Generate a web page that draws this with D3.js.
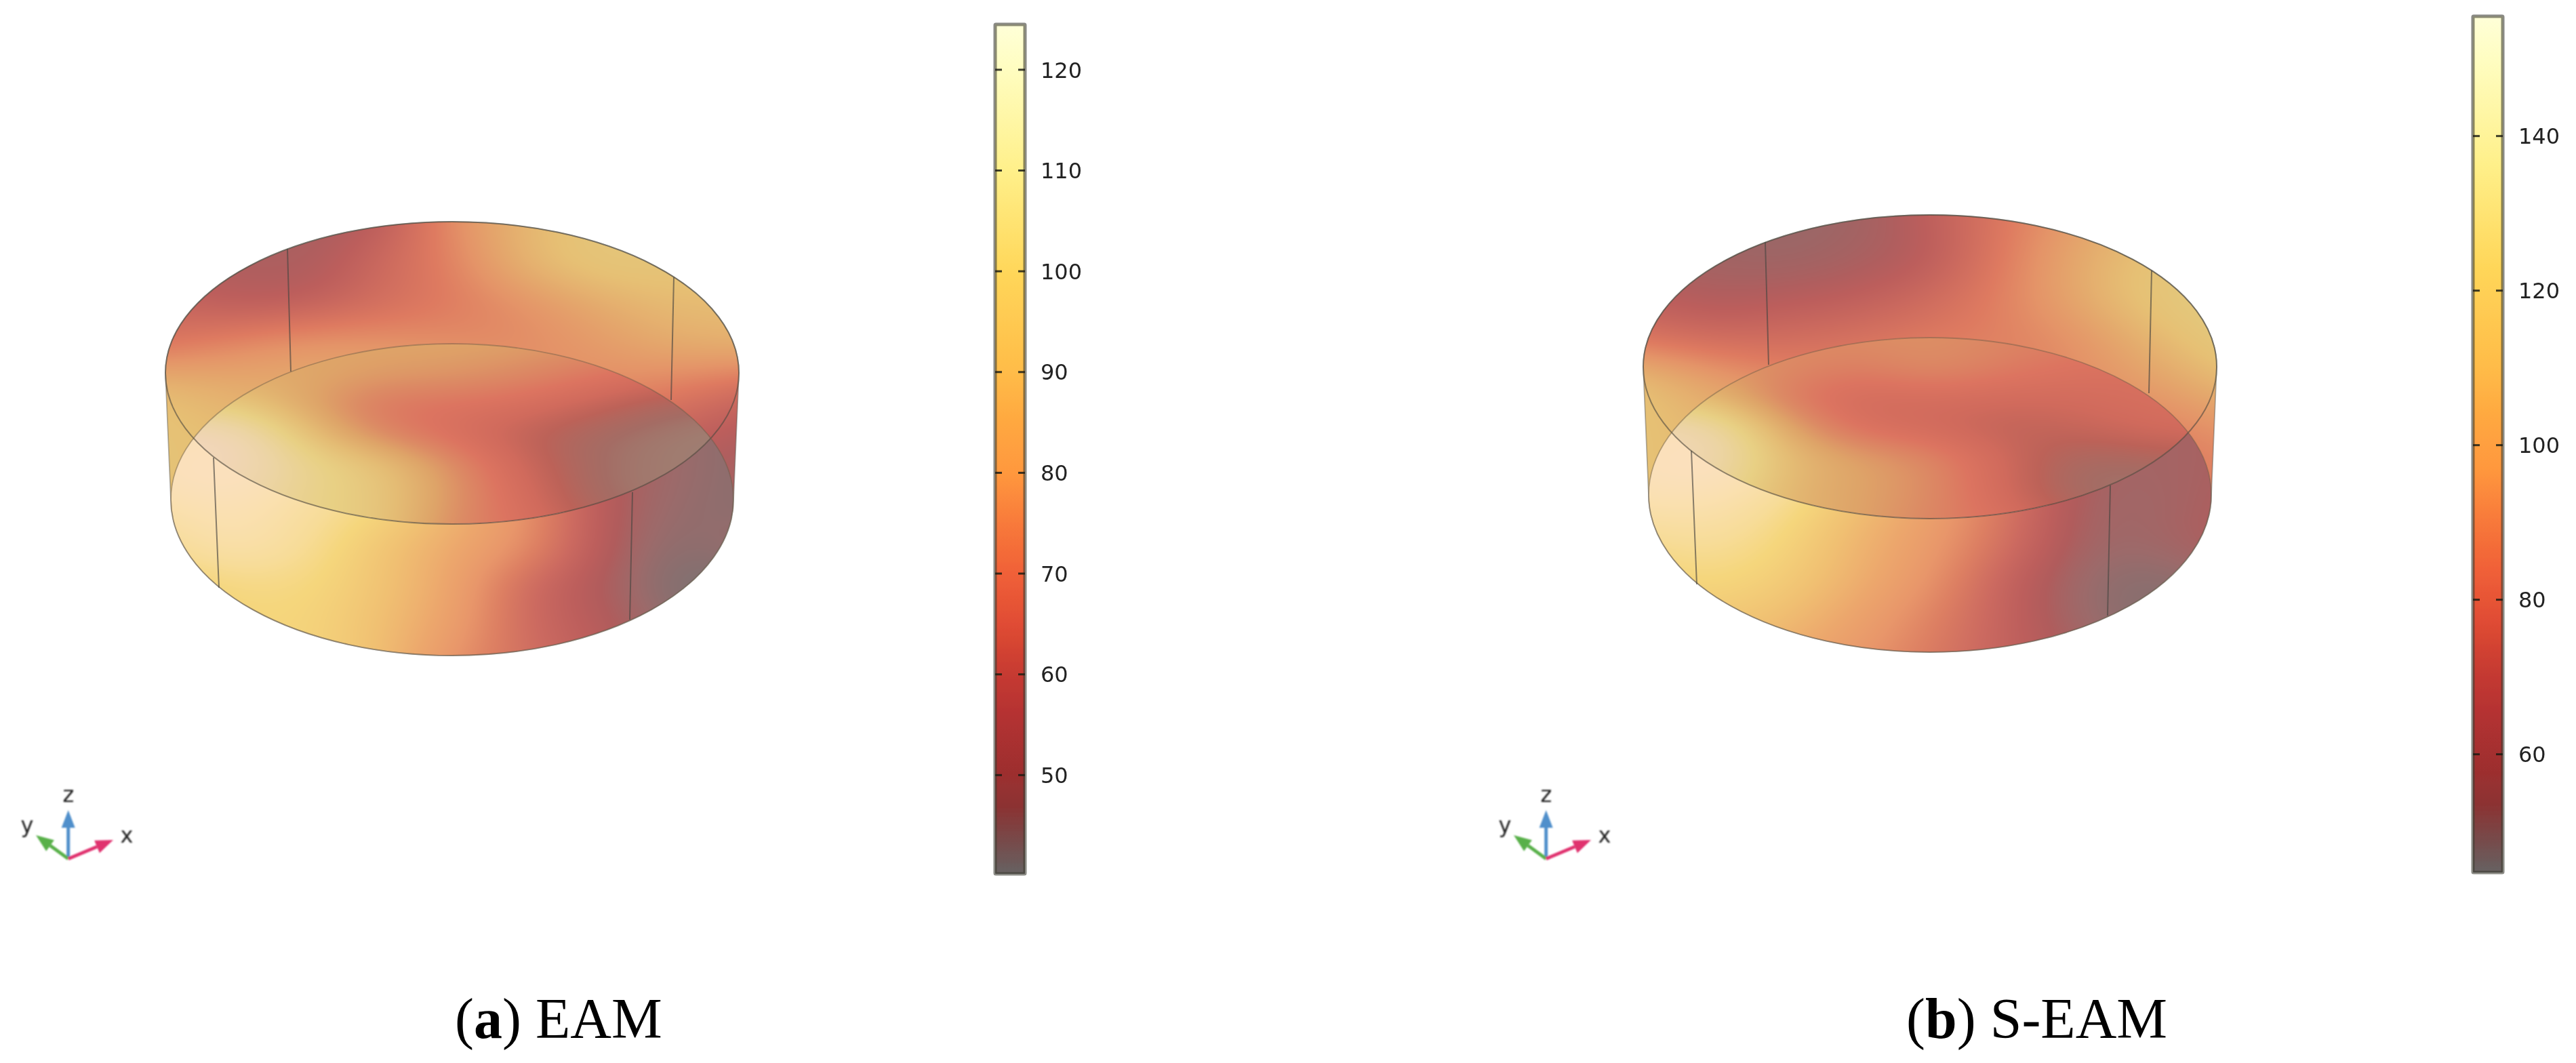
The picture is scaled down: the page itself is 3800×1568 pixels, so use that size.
<!DOCTYPE html>
<html><head><meta charset="utf-8">
<script src="https://cdnjs.cloudflare.com/ajax/libs/d3/7.8.5/d3.min.js"></script>
<style>html,body{margin:0;padding:0;background:#fff}svg{display:block}</style>
</head><body>
<div id="chart"></div>
<script>
// ---------- data ----------
const captionsBold = ["a", "b"];
const captionsName = ["EAM", "S-EAM"];
const ticksEAM = [50, 60, 70, 80, 90, 100, 110, 120];
const ticksSEAM = [60, 80, 100, 120, 140];
const rangeEAM = [40.2, 124.5];
const rangeSEAM = [44.7, 155.5];
const axisLetters = ["x", "y", "z"];

// colour bar (fraction of range -> colour)
const barStops  = [0, .045, .08, .116, .175, .235, .294, .353, .413, .472, .532, .591, .71, .828, .947, 1];
const barColors = ["#666262","#7a4646","#8c3232","#9c2f2f","#b03030","#c63a30","#e04c34","#f06038","#f87a3a","#ff983e","#ffa840","#ffbc48","#ffd75a","#fff08a","#fffdc0","#ffffd8"];

// how the translucent surfaces show that colour
const frontStops  = [.01,.03,.07,.12,.16,.235,.33,.425,.52,.64,.76,.83,.92,1];
const frontColors = ["#706e6e","#847070","#9c6a6a","#b05c5c","#bc5e5c","#cc6a60","#dc7e62","#e8966a","#eca66c","#f0c072","#f5d67c","#f7dc98","#fae0b0","#fbe0c4"];
const backStops   = [.01,.07,.12,.16,.235,.33,.425,.52,.64,.76,.92];
const backColors  = ["#8a7070","#a06464","#b05e5e","#bc5e5c","#cc6a5e","#de7a60","#e49468","#e4a86c","#e6c074","#e2cc80","#d8c8a0"];
const lensStops   = [.01,.045,.08,.16,.235,.33,.425,.52,.64,.76,.88,1];
const lensColors  = ["#96827a","#a07c70","#a46c64","#bc6258","#d06a5c","#dc7460","#dc8a64","#dea468","#e4bc74","#e8d084","#ecd4a4","#f2d6bc"];

// temperature read across the surfaces (rows top to bottom, columns left to right)
const eamBack = [
 [48,48,48,52,74,90,98,98,98],
 [50,50,48,60,70,90,100,98,96],
 [58,52,54,62,68,74,84,92,92],
 [66,74,80,78,74,73,78,85,88],
 [92,86,84,84,84,76,74,70,62],
 [96,92,86,82,78,72,66,58,52],
 [96,94,88,80,72,62,54,50,48],
 [94,92,88,80,72,62,54,50,48]];
const eamLens = [
 [84,84,84,84,84,82,78,74,70],
 [88,86,86,82,80,76,70,64,60],
 [104,100,84,68,67,64,56,48,46],
 [124,124,96,74,64,54,47,44,43],
 [124,124,108,98,78,58,46,44,43],
 [120,118,106,100,80,62,46,44,43],
 [116,116,106,100,76,66,50,46,44]];
const eamFront = [
 [120,122,118,108,96,76,52,46,44],
 [122,124,118,108,96,76,52,46,44],
 [116,120,112,104,90,76,52,45,44],
 [110,118,110,96,85,75,52,43,46],
 [100,106,106,96,84,60,50,42,41],
 [100,104,104,94,82,60,52,44,41],
 [100,104,104,94,76,62,54,46,41]];
const seamBack = [
 [52,52,50,52,63,79,96,110,118],
 [54,52,50,54,60,81,102,118,122],
 [62,57,60,63,71,84,102,121,128],
 [76,71,73,76,81,84,89,108,123],
 [115,99,87,87,94,84,89,97,110],
 [117,110,95,86,88,84,84,84,92],
 [117,112,98,86,84,80,78,78,84],
 [117,112,98,86,84,80,78,78,84]];
const seamLens = [
 [92,92,92,92,94,90,86,84,84],
 [100,98,92,86,94,86,80,78,78],
 [124,112,84,71,74,72,72,76,78],
 [150,148,104,76,71,63,66,72,74],
 [152,150,116,102,92,71,54,56,60],
 [148,140,112,102,94,71,52,50,50],
 [146,136,112,102,90,78,60,52,50]];
const seamFront = [
 [150,152,144,124,108,82,56,54,56],
 [152,155,146,124,108,82,56,54,56],
 [146,147,134,114,100,78,55,53,57],
 [134,139,128,109,96,76,54,53,58],
 [126,131,123,107,92,66,52,48,52],
 [118,122,115,100,84,66,52,48,48],
 [112,116,106,94,80,66,56,50,48]];

// ---------- layout ----------
const W = 3800, H = 1568;
const panels = [
 {id:"a", cx:667, top:{cy:550,rx:423,ry:223}, bot:{cy:737,rx:415,ry:230}, lensBox:[508,773], frontBox:[648,967], backBox:[327,755],
  bar:{x:1468,w:44,y0:36,y1:1289}, range:rangeEAM, ticks:ticksEAM, labelX:1535, back:eamBack, lens:eamLens, front:eamFront,
  triadDx:0, capX:671, bold:captionsBold[0], name:captionsName[0],
  edges:[[[424,367],[429,548]],[[994,409],[990,590]],[[315,675],[323,867]],[[933,726],[929,914]]]},
 {id:"b", cx:2847, top:{cy:541,rx:423,ry:224}, bot:{cy:730,rx:415,ry:232}, lensBox:[498,765], frontBox:[638,962], backBox:[317,745],
  bar:{x:3648,w:44,y0:24,y1:1287}, range:rangeSEAM, ticks:ticksSEAM, labelX:3715, back:seamBack, lens:seamLens, front:seamFront,
  triadDx:2180, capX:2812, bold:captionsBold[1], name:captionsName[1],
  edges:[[[2604,357],[2609,538]],[[3174,399],[3170,580]],[[2495,665],[2503,862]],[[3113,716],[3109,908]]]}
];

const svg = d3.select("#chart").append("svg").attr("width",W).attr("height",H).attr("viewBox",[0,0,W,H]);
svg.append("rect").attr("width",W).attr("height",H).attr("fill","#fff");
const defs = svg.append("defs");
const soft = defs.append("filter").attr("id","soft").attr("x","-5%").attr("y","-5%").attr("width","110%").attr("height","110%");
soft.append("feGaussianBlur").attr("stdDeviation",0.7);
const soft2 = defs.append("filter").attr("id","soft2").attr("x","-20%").attr("y","-20%").attr("width","140%").attr("height","140%");
soft2.append("feGaussianBlur").attr("stdDeviation",1.3);

function lut(stops, colors) {
  const s = d3.scaleLinear().domain(stops).range(colors).interpolate(d3.interpolateRgb).clamp(true);
  return d3.range(1025).map(i => d3.rgb(s(i / 1024)));
}
const frontLut = lut(frontStops, frontColors), backLut = lut(backStops, backColors), lensLut = lut(lensStops, lensColors);

// paints a temperature grid to an image through the range and colour scales
function fieldImage(grid, table, range, xRange, yRange) {
  const [x0, x1] = xRange, [y0, y1] = yRange, w = x1 - x0, h = y1 - y0;
  const cv = document.createElement("canvas"); cv.width = w; cv.height = h;
  const ctx = cv.getContext("2d"), img = ctx.createImageData(w, h);
  const norm = d3.scaleLinear().domain(range).range([0, 1024]).clamp(true);
  const xs = d3.scaleLinear().domain([0, w - 1]).range([0, 1]);
  const ys = d3.scaleLinear().domain([0, h - 1]).range([0, 1]);
  const rows = grid.map(r => d3.interpolateBasis(r));
  for (let i = 0; i < w; i++) {
    const col = d3.interpolateBasis(rows.map(f => f(xs(i))));
    for (let j = 0; j < h; j++) {
      const c = table[Math.round(norm(col(ys(j))))], k = (j * w + i) * 4;
      img.data[k] = c.r; img.data[k+1] = c.g; img.data[k+2] = c.b; img.data[k+3] = 255;
    }
  }
  ctx.putImageData(img, 0, 0);
  return cv.toDataURL();
}

panels.forEach(p => {
  const g = svg.append("g").attr("class", "panel-" + p.id);
  const L = p.cx - p.top.rx, R = p.cx + p.top.rx, L2 = p.cx - p.bot.rx, R2 = p.cx + p.bot.rx;
  const ell = e => `M${p.cx - e.rx},${e.cy}A${e.rx},${e.ry} 0 1 1 ${p.cx + e.rx},${e.cy}A${e.rx},${e.ry} 0 1 1 ${p.cx - e.rx},${e.cy}Z`;
  const hull = `M${L},${p.top.cy}A${p.top.rx},${p.top.ry} 0 0 1 ${R},${p.top.cy}L${R2},${p.bot.cy}A${p.bot.rx},${p.bot.ry} 0 0 1 ${L2},${p.bot.cy}Z`;
  const clip = (name, d, rule) => defs.append("clipPath").attr("id", p.id + name).append("path").attr("d", d).attr("clip-rule", rule || "nonzero");
  clip("hull", hull); clip("top", ell(p.top)); clip("bot", ell(p.bot));
  clip("out", `M0,0H${W}V${H}H0Z` + ell(p.top), "evenodd");

  const xr = [Math.floor(L), Math.ceil(R)];
  const image = (sel, grid, table, yr) => sel.append("image").attr("x", xr[0]).attr("y", yr[0])
    .attr("width", xr[1] - xr[0]).attr("height", yr[1] - yr[0]).attr("preserveAspectRatio", "none")
    .attr("href", fieldImage(grid, table, p.range, xr, yr));

  // back wall + side wedges
  image(g.append("g").attr("clip-path", `url(#${p.id}hull)`), p.back, backLut, p.backBox);
  // front wall
  const fg = g.append("g").attr("clip-path", `url(#${p.id}bot)`).append("g").attr("clip-path", `url(#${p.id}out)`);
  image(fg, p.front, frontLut, p.frontBox);
  // lens
  const lg = g.append("g").attr("clip-path", `url(#${p.id}top)`).append("g").attr("clip-path", `url(#${p.id}bot)`);
  image(lg, p.lens, lensLut, p.lensBox);

  // outlines
  const lines = g.append("g").attr("fill", "none").attr("filter", "url(#soft)");
  lines.append("path").attr("d", hull).attr("stroke", "#5a5850").attr("stroke-width", 1.8).attr("stroke-opacity", .45);
  lines.append("path").attr("d", ell(p.top)).attr("stroke", "#4f4a40").attr("stroke-width", 2).attr("stroke-opacity", .6);
  lines.append("path").attr("d", ell(p.bot)).attr("stroke", "#6a5a48").attr("stroke-width", 1.8).attr("stroke-opacity", .45);
  lines.selectAll("line").data(p.edges).join("line")
    .attr("x1", d => d[0][0]).attr("y1", d => d[0][1]).attr("x2", d => d[1][0]).attr("y2", d => d[1][1])
    .attr("stroke", "#4a4640").attr("stroke-width", 2).attr("stroke-opacity", .65);

  // colour bar
  const y = d3.scaleLinear().domain(p.range).range([p.bar.y1, p.bar.y0]);
  const grad = defs.append("linearGradient").attr("id", p.id + "grad").attr("x1", 0).attr("x2", 0).attr("y1", 1).attr("y2", 0);
  grad.selectAll("stop").data(barStops).join("stop").attr("offset", d => d).attr("stop-color", (d, i) => barColors[i]);
  const bar = g.append("g").attr("class", "colorbar").attr("filter", "url(#soft)");
  bar.append("rect").attr("x", p.bar.x).attr("y", p.bar.y0).attr("width", p.bar.w).attr("height", p.bar.y1 - p.bar.y0)
    .attr("fill", `url(#${p.id}grad)`).attr("stroke", "#3c3c30").attr("stroke-opacity", .6).attr("stroke-width", 5).attr("rx", 1);
  [[p.bar.x, p.bar.x + 10], [p.bar.x + p.bar.w - 10, p.bar.x + p.bar.w]].forEach(([a, b]) =>
    bar.append("g").selectAll("line").data(p.ticks).join("line")
      .attr("x1", a).attr("x2", b).attr("y1", d => y(d)).attr("y2", d => y(d))
      .attr("stroke", "#1c1c14").attr("stroke-opacity", .85).attr("stroke-width", 3));
  const axis = d3.axisRight(y).tickValues(p.ticks).tickSize(0).tickPadding(0);
  const ag = g.append("g").attr("transform", `translate(${p.labelX},0)`).attr("filter", "url(#soft)").call(axis);
  ag.select(".domain").remove();
  ag.selectAll("text").attr("font-family", "DejaVu Sans").attr("font-size", 32).attr("fill", "#222").attr("x", 0).attr("dy", "0.35em");

  // coordinate triad
  const tg = g.append("g").attr("transform", `translate(${p.triadDx},0)`).attr("filter", "url(#soft2)");
  const o = [100.7, 1266.7];
  const arrows = [
    {n:axisLetters[2], tip:[100.7,1195], c:"#4f8fcb", l:[101,1172]},
    {n:axisLetters[1], tip:[53,1232],  c:"#59b04a", l:[40,1217]},
    {n:axisLetters[0], tip:[167,1239], c:"#e0306e", l:[187,1232]}];
  arrows.forEach(a => {
    const dx = a.tip[0] - o[0], dy = a.tip[1] - o[1], len = Math.hypot(dx, dy), ux = dx / len, uy = dy / len;
    const bx = a.tip[0] - ux * 26, by = a.tip[1] - uy * 26;
    tg.append("line").attr("x1", o[0]).attr("y1", o[1]).attr("x2", bx).attr("y2", by).attr("stroke", a.c).attr("stroke-width", 5);
    tg.append("path").attr("d", `M${a.tip[0]},${a.tip[1]}L${bx - uy * 10},${by + ux * 10}L${bx + uy * 10},${by - ux * 10}Z`).attr("fill", a.c);
    tg.append("text").attr("x", a.l[0]).attr("y", a.l[1]).attr("text-anchor", "middle").attr("dominant-baseline", "central")
      .attr("font-family", "DejaVu Sans").attr("font-size", 32).attr("fill", "#222").text(a.n);
  });

  // caption
  const cap = g.append("text").attr("x", p.capX).attr("y", 1531).attr("font-family", "Liberation Serif").attr("font-size", 84).attr("fill", "#000");
  cap.append("tspan").text("(");
  cap.append("tspan").attr("font-weight", "bold").text(p.bold);
  cap.append("tspan").text(") " + p.name);
});
</script>
</body></html>
